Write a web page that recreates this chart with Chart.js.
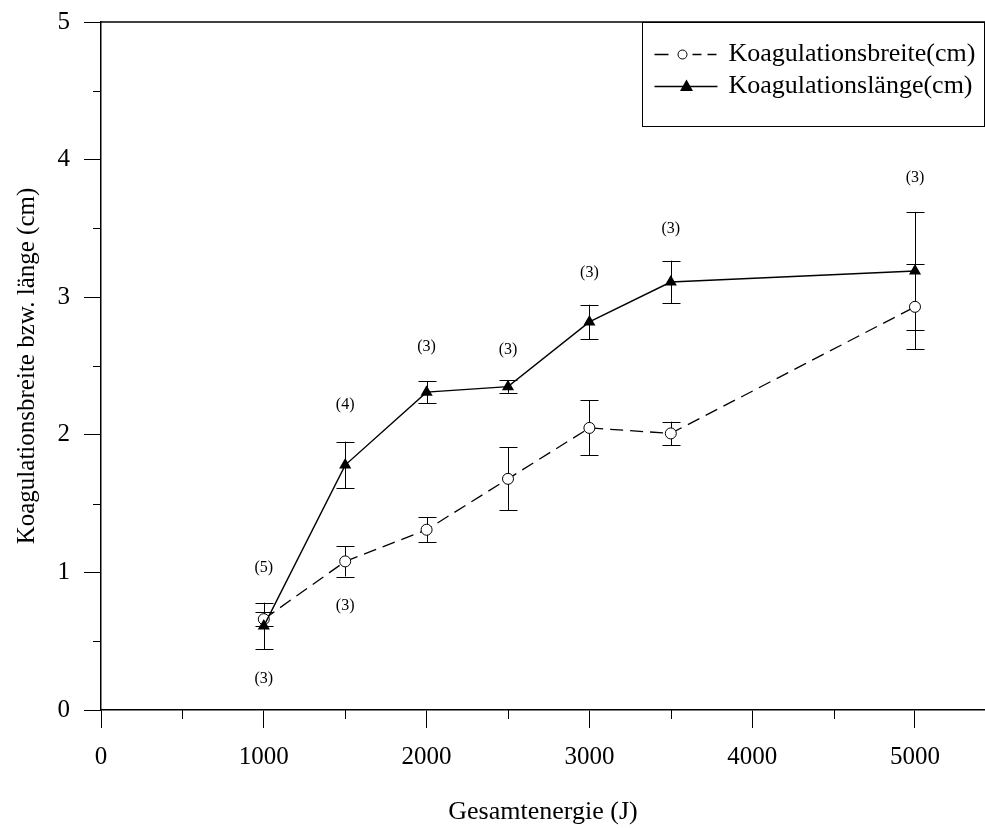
<!DOCTYPE html>
<html>
<head>
<meta charset="utf-8">
<script src="https://cdn.jsdelivr.net/npm/chart.js@4.4.1/dist/chart.umd.min.js"></script>
<style>
html,body{margin:0;padding:0;background:#fff;}
#wrap{width:985px;height:828px;}
</style>
</head>
<body>
<div id="wrap"><canvas id="c" width="985" height="828"></canvas></div>
<script>
const energies   = [1000, 1500, 2000, 2500, 3000, 3500, 5000];
const breite     = [0.66, 1.08, 1.31, 1.68, 2.05, 2.01, 2.93];
const breiteErr  = [0.05, 0.11, 0.09, 0.23, 0.20, 0.085, 0.31];
const laenge     = [0.61, 1.78, 2.31, 2.35, 2.82, 3.11, 3.19];
const laengeErr  = [0.17, 0.17, 0.08, 0.045, 0.125, 0.155, 0.43];
const nX    = [1000, 1000, 1500, 1500, 2000, 2500, 3000, 3500, 5000];
const nY    = [1.03, 0.23, 0.76, 2.22, 2.64, 2.62, 3.18, 3.50, 3.87];
const nText = ['(5)', '(3)', '(3)', '(4)', '(3)', '(3)', '(3)', '(3)', '(3)'];
const xTickVals = [0, 500, 1000, 1500, 2000, 2500, 3000, 3500, 4000, 4500, 5000];
const xMajor    = [0, 1000, 2000, 3000, 4000, 5000];
const yTickVals = [0, 0.5, 1, 1.5, 2, 2.5, 3, 3.5, 4, 4.5, 5];
const yMajor    = [0, 1, 2, 3, 4, 5];
const seriesNames = ['Koagulationsbreite(cm)', 'Koagulationslänge(cm)'];
const xTitle = 'Gesamtenergie (J)';
const yTitle = 'Koagulationsbreite bzw. länge (cm)';

const FONT = '"Liberation Serif", "Times New Roman", serif';
const isMajorX = v => xMajor.includes(v);
const isMajorY = v => yMajor.some(m => Math.abs(m - v) < 1e-9);

const errorBars = {
  id: 'errorBars',
  beforeDatasetsDraw(chart) {
    const ctx = chart.ctx, xs = chart.scales.x, ys = chart.scales.y;
    ctx.save();
    ctx.strokeStyle = '#000';
    ctx.lineWidth = 1;
    const sets = [[breite, breiteErr], [laenge, laengeErr]];
    sets.forEach(([vals, errs]) => {
      vals.forEach((v, i) => {
        const px = Math.round(xs.getPixelForValue(energies[i])) + 0.5;
        const top = ys.getPixelForValue(v + errs[i]);
        const bot = ys.getPixelForValue(v - errs[i]);
        ctx.beginPath();
        ctx.moveTo(px, top); ctx.lineTo(px, bot);
        ctx.moveTo(px - 9, Math.round(top) + 0.5); ctx.lineTo(px + 9, Math.round(top) + 0.5);
        ctx.moveTo(px - 9, Math.round(bot) + 0.5); ctx.lineTo(px + 9, Math.round(bot) + 0.5);
        ctx.stroke();
      });
    });
    ctx.restore();
  }
};

const extras = {
  id: 'extras',
  afterDraw(chart) {
    const ctx = chart.ctx, xs = chart.scales.x, ys = chart.scales.y, a = chart.chartArea;
    ctx.save();
    ctx.strokeStyle = '#000';
    ctx.lineWidth = 1;
    xTickVals.forEach(v => {
      if (!isMajorX(v)) {
        const px = Math.round(xs.getPixelForValue(v)) + 0.5;
        ctx.beginPath(); ctx.moveTo(px, a.bottom); ctx.lineTo(px, a.bottom + 9); ctx.stroke();
      }
    });
    yTickVals.forEach(v => {
      if (!isMajorY(v)) {
        const py = Math.round(ys.getPixelForValue(v)) + 0.5;
        ctx.beginPath(); ctx.moveTo(a.left, py); ctx.lineTo(a.left - 8, py); ctx.stroke();
      }
    });
    // top frame
    ctx.lineWidth = 1.5;
    ctx.beginPath(); ctx.moveTo(a.left, a.top); ctx.lineTo(a.right, a.top); ctx.stroke();
    // n annotations
    ctx.fillStyle = '#000';
    ctx.font = '16px ' + FONT;
    ctx.textAlign = 'center';
    ctx.textBaseline = 'middle';
    nText.forEach((s, i) => {
      ctx.fillText(s, xs.getPixelForValue(nX[i]), ys.getPixelForValue(nY[i]));
    });
    // legend
    const bw = 342, bh = 104;
    const bx = Math.round(a.right - bw) - 0.5, by = Math.round(a.top) + 0.5;
    ctx.fillStyle = '#fff';
    ctx.fillRect(bx, by, bw, bh);
    ctx.strokeStyle = '#000';
    ctx.lineWidth = 1;
    ctx.strokeRect(bx, by, bw, bh);
    const r1 = by + 32, r2 = by + 64;
    const sx = bx + 12;
    ctx.lineWidth = 1.3;
    ctx.beginPath();
    ctx.moveTo(sx, r1); ctx.lineTo(sx + 14, r1);
    ctx.moveTo(sx + 38, r1); ctx.lineTo(sx + 47, r1);
    ctx.moveTo(sx + 53, r1); ctx.lineTo(sx + 62, r1);
    ctx.stroke();
    ctx.lineWidth = 1;
    ctx.beginPath(); ctx.arc(sx + 28, r1, 4.5, 0, Math.PI * 2);
    ctx.fillStyle = '#fff'; ctx.fill(); ctx.stroke();
    ctx.lineWidth = 1.3;
    ctx.beginPath(); ctx.moveTo(sx, r2); ctx.lineTo(sx + 63, r2); ctx.stroke();
    ctx.fillStyle = '#000';
    const tx = sx + 32;
    ctx.beginPath();
    ctx.moveTo(tx, r2 - 7); ctx.lineTo(tx + 6.5, r2 + 4.5); ctx.lineTo(tx - 6.5, r2 + 4.5); ctx.closePath();
    ctx.fill();
    ctx.font = '26px ' + FONT;
    ctx.textAlign = 'left';
    ctx.textBaseline = 'middle';
    ctx.fillText(seriesNames[0], bx + 86, r1);
    ctx.fillText(seriesNames[1], bx + 86, r2);
    ctx.restore();
  }
};

const data = {
  datasets: [
    {
      label: seriesNames[1],
      data: energies.map((e, i) => ({x: e, y: laenge[i]})),
      borderColor: '#000',
      borderWidth: 1.4,
      pointStyle: 'triangle',
      pointRadius: 7,
      pointBackgroundColor: '#000',
      pointBorderColor: '#000',
      pointBorderWidth: 0,
      tension: 0,
      fill: false
    },
    {
      label: seriesNames[0],
      data: energies.map((e, i) => ({x: e, y: breite[i]})),
      borderColor: '#000',
      borderWidth: 1.3,
      borderDash: [13, 7],
      pointStyle: 'circle',
      pointRadius: 5.5,
      pointBackgroundColor: '#fff',
      pointBorderColor: '#000',
      pointBorderWidth: 1,
      tension: 0,
      fill: false
    }
  ]
};

new Chart(document.getElementById('c'), {
  type: 'line',
  data,
  options: {
    responsive: false,
    animation: false,
    devicePixelRatio: 1,
    layout: {autoPadding: false, padding: {top: 22, right: 0, left: 0, bottom: 0}},
    plugins: {legend: {display: false}, tooltip: {enabled: false}},
    scales: {
      x: {
        type: 'linear',
        min: 0, max: 5430,
        afterBuildTicks(s) { s.ticks = xTickVals.map(v => ({value: v})); },
        afterFit(s) { s.height = 118; s.paddingLeft = 0; s.paddingRight = 0; s.paddingTop = 0; s.paddingBottom = 0; },
        ticks: {
          padding: 14,
          color: '#000',
          font: {family: FONT, size: 25},
          maxRotation: 0,
          autoSkip: false,
          callback: v => (isMajorX(v) ? String(v) : '')
        },
        grid: {
          display: true, drawOnChartArea: false, drawTicks: true, tickLength: 18, tickWidth: 1,
          tickColor: c => (c.tick && isMajorX(c.tick.value) ? '#000' : 'rgba(0,0,0,0)')
        },
        border: {display: true, color: '#000', width: 1.5},
        title: {display: true, text: xTitle, color: '#000', font: {family: FONT, size: 26}, padding: {top: 0, bottom: 0}}
      },
      y: {
        type: 'linear',
        min: 0, max: 5,
        afterBuildTicks(s) { s.ticks = yTickVals.map(v => ({value: v})); },
        afterFit(s) { s.width = 101; s.paddingLeft = 0; s.paddingRight = 0; s.paddingTop = 0; s.paddingBottom = 0; },
        ticks: {
          padding: 14,
          color: '#000',
          font: {family: FONT, size: 25},
          autoSkip: false,
          callback: v => (isMajorY(v) ? String(v) : '')
        },
        grid: {
          display: true, drawOnChartArea: false, drawTicks: true, tickLength: 17, tickWidth: 1,
          tickColor: c => (c.tick && isMajorY(c.tick.value) ? '#000' : 'rgba(0,0,0,0)')
        },
        border: {display: true, color: '#000', width: 1.5},
        title: {display: true, text: yTitle, color: '#000', font: {family: FONT, size: 25}, padding: {top: 12, bottom: 0}}
      }
    }
  },
  plugins: [errorBars, extras]
});
</script>
</body>
</html>
